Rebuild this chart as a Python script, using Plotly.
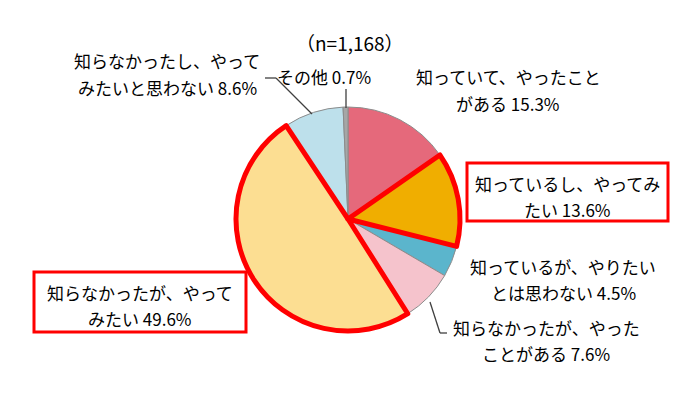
import plotly.graph_objects as go

W, H = 700, 399

categories = [
    "知っていて、やったことがある",
    "知っているし、やってみたい",
    "知っているが、やりたいとは思わない",
    "知らなかったが、やったことがある",
    "知らなかったが、やってみたい",
    "知らなかったし、やってみたいと思わない",
    "その他",
]
values = [15.3, 13.6, 4.5, 7.6, 49.6, 8.6, 0.7]
colors = ["#E5697B", "#F0AE00", "#5BB5CC", "#F5C3CC", "#FCDE92", "#BDE0EB", "#A6A6A6"]
highlight = [False, True, False, False, True, False, False]

label_lines = [
    ("知っていて、やったこと", "がある 15.3%"),
    ("知っているし、やってみ", "たい 13.6%"),
    ("知っているが、やりたい", "とは思わない 4.5%"),
    ("知らなかったが、やった", "ことがある 7.6%"),
    ("知らなかったが、やって", "みたい 49.6%"),
    ("知らなかったし、やって", "みたいと思わない 8.6%"),
    ("その他 0.7%",),
]
sample_note = "（n=1,168）"

def px(x):
    return x / W

def py(y):
    return 1 - y / H

cx, cy, r = 348, 219, 112
dom = dict(x=[px(cx - r), px(cx + r)], y=[py(cy + r), py(cy - r)])

fig = go.Figure()
fig.add_trace(go.Pie(
    labels=categories, values=values, sort=False, direction="clockwise", rotation=0,
    marker=dict(colors=colors, line=dict(color="#8C8C8C", width=1)),
    textinfo="none", hoverinfo="label+percent", domain=dom, showlegend=False,
))
fig.add_trace(go.Pie(
    labels=categories, values=values, sort=False, direction="clockwise", rotation=0,
    marker=dict(colors=["rgba(0,0,0,0)"] * len(values),
                line=dict(color=["#FF0000" if h else "rgba(0,0,0,0)" for h in highlight],
                          width=[5 if h else 0 for h in highlight])),
    textinfo="none", hoverinfo="skip", domain=dom, showlegend=False,
))

font = dict(family="Noto Sans CJK JP", size=17, color="#000000")

# label positions (center x, first-line y) in pixels
label_pos = [(508, 77), (567, 183), (563, 266), (546, 327), (140, 292), (167, 61), (324, 77)]
for lines, (x, y) in zip(label_lines, label_pos):
    for i, t in enumerate(lines):
        fig.add_annotation(x=px(x), y=py(y + i * 26), xref="paper", yref="paper",
                           text=t, showarrow=False, font=font, xanchor="center", yanchor="middle")

fig.add_annotation(x=px(350), y=py(42), xref="paper", yref="paper", text=sample_note,
                   showarrow=False, font=dict(family="Noto Sans CJK JP", size=19, color="#000000"),
                   xanchor="center", yanchor="middle")

shapes = []
# highlight boxes
for (x0, y0, x1, y1) in [(467, 163, 668, 221), (34, 272, 246, 332)]:
    shapes.append(dict(type="rect", xref="paper", yref="paper", x0=px(x0), x1=px(x1),
                       y0=py(y1), y1=py(y0), line=dict(color="#FF0000", width=3)))
# leader lines
for pts in [[(346, 89), (346, 108)], [(265, 78), (276, 78), (312, 114)],
            [(430, 302), (440, 333), (447, 333)]]:
    for (a, b) in zip(pts[:-1], pts[1:]):
        shapes.append(dict(type="line", xref="paper", yref="paper", x0=px(a[0]), y0=py(a[1]),
                           x1=px(b[0]), y1=py(b[1]), line=dict(color="#404040", width=1.3)))

fig.update_layout(width=W, height=H, margin=dict(l=0, r=0, t=0, b=0),
                  paper_bgcolor="white", plot_bgcolor="white", shapes=shapes)
fig.write_html("out.html")
